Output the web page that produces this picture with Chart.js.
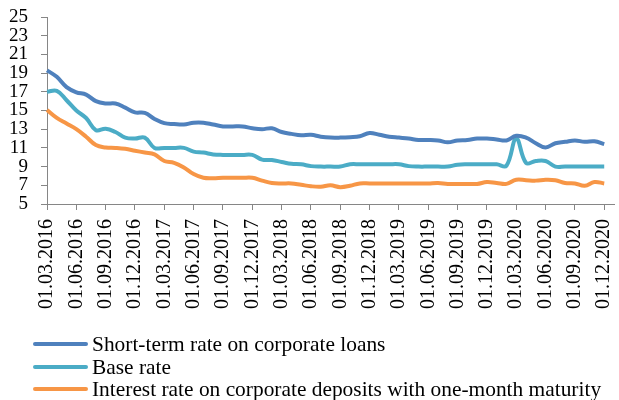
<!DOCTYPE html>
<html>
<head>
<meta charset="utf-8">
<script src="https://cdn.jsdelivr.net/npm/chart.js@4"></script>
<style>
  body { margin: 0; background: #fff; }
  #wrap { position: relative; width: 619px; height: 400px; overflow: hidden; }
  #legend { position: absolute; left: 0; top: 333px; font-family: 'Liberation Serif', 'Times New Roman', serif; font-size: 21.4px; color: #000; }
  .row { position: relative; height: 22.7px; line-height: 22.7px; white-space: nowrap; }
  .swatch { position: absolute; left: 33px; top: 9px; width: 55px; height: 4px; border-radius: 2px; }
  .txt { position: absolute; left: 92px; top: 0; }
</style>
</head>
<body>
<div id="wrap">
  <canvas id="rateChart" width="619" height="400"></canvas>
  <div id="legend"></div>
</div>
<script>
// monthly dates, 01.03.2016 .. 01.01.2021 (last one only extends the axis)
const dateLabels = [
  '01.03.2016', '01.04.2016', '01.05.2016', '01.06.2016', '01.07.2016', '01.08.2016',
  '01.09.2016', '01.10.2016', '01.11.2016', '01.12.2016', '01.01.2017', '01.02.2017',
  '01.03.2017', '01.04.2017', '01.05.2017', '01.06.2017', '01.07.2017', '01.08.2017',
  '01.09.2017', '01.10.2017', '01.11.2017', '01.12.2017', '01.01.2018', '01.02.2018',
  '01.03.2018', '01.04.2018', '01.05.2018', '01.06.2018', '01.07.2018', '01.08.2018',
  '01.09.2018', '01.10.2018', '01.11.2018', '01.12.2018', '01.01.2019', '01.02.2019',
  '01.03.2019', '01.04.2019', '01.05.2019', '01.06.2019', '01.07.2019', '01.08.2019',
  '01.09.2019', '01.10.2019', '01.11.2019', '01.12.2019', '01.01.2020', '01.02.2020',
  '01.03.2020', '01.04.2020', '01.05.2020', '01.06.2020', '01.07.2020', '01.08.2020',
  '01.09.2020', '01.10.2020', '01.11.2020', '01.12.2020', '01.01.2021'
];

const shortTermRate = [
  19.3, 18.6, 17.5, 16.95, 16.7, 16.0, 15.75, 15.75, 15.3, 14.8,
  14.75, 14.1, 13.65, 13.55, 13.5, 13.7, 13.7, 13.5, 13.3, 13.3,
  13.3, 13.1, 13.0, 13.1, 12.7, 12.5, 12.35, 12.4, 12.2, 12.1,
  12.1, 12.15, 12.25, 12.6, 12.4, 12.2, 12.1, 12.0, 11.85, 11.85,
  11.8, 11.6, 11.8, 11.85, 12.0, 12.0, 11.9, 11.8, 12.3, 12.1,
  11.5, 11.05, 11.5, 11.65, 11.8, 11.65, 11.7, 11.4
];

const baseRate = [
  17.0, 17.1, 16.1, 15.0, 14.2, 12.9, 13.05, 12.7, 12.1, 12.0,
  12.1, 11.0, 11.0, 11.0, 11.0, 10.6, 10.5, 10.3, 10.25, 10.25,
  10.25, 10.25, 9.75, 9.7, 9.5, 9.3, 9.25, 9.05, 9.0, 9.0,
  9.0, 9.25, 9.25, 9.25, 9.25, 9.25, 9.25, 9.05, 9.0, 9.0,
  9.0, 9.0, 9.2, 9.25, 9.25, 9.25, 9.25, 9.1, 12.0, 9.4,
  9.6, 9.6, 9.0, 9.0, 9.0, 9.0, 9.0, 9.0
];

const depositRate = [
  15.05, 14.2, 13.6, 13.0, 12.2, 11.3, 11.05, 11.0, 10.9, 10.7,
  10.5, 10.3, 9.6, 9.4, 8.9, 8.2, 7.8, 7.75, 7.8, 7.8,
  7.8, 7.8, 7.5, 7.25, 7.2, 7.2, 7.05, 6.9, 6.85, 7.0,
  6.8, 6.95, 7.2, 7.2, 7.2, 7.2, 7.2, 7.2, 7.2, 7.2,
  7.25, 7.15, 7.15, 7.15, 7.15, 7.35, 7.25, 7.15, 7.6, 7.55,
  7.5, 7.6, 7.55, 7.25, 7.2, 6.95, 7.35, 7.2
];

const seriesNames = [
  'Short-term rate on corporate loans',
  'Base rate',
  'Interest rate on corporate deposits with one-month maturity'
];
const seriesColors = ['#4F81BD', '#4BACC6', '#F79646'];

const axisColor = '#868686';
const serif = "'Liberation Serif', 'Times New Roman', serif";

function makeSet(i, values) {
    return {
        label: seriesNames[i],
        data: values,
        borderColor: seriesColors[i],
        backgroundColor: seriesColors[i],
        borderWidth: 4,
        pointRadius: 0,
        tension: 0.4,
        fill: false
    };
}

new Chart(document.getElementById('rateChart'), {
    type: 'line',
    data: {
        labels: dateLabels,
        datasets: [
            makeSet(0, shortTermRate),
            makeSet(1, baseRate),
            makeSet(2, depositRate)
        ]
    },
    options: {
        responsive: false,
        animation: false,
        layout: { padding: { top: 17, right: 5, left: 0, bottom: 0 } },
        plugins: {
            legend: { display: false },
            tooltip: { enabled: false }
        },
        scales: {
            x: {
                offset: false,
                grid: { drawOnChartArea: false, tickLength: 6, color: axisColor },
                border: { color: axisColor, width: 1 },
                ticks: {
                    autoSkip: false,
                    minRotation: 90,
                    maxRotation: 90,
                    padding: 9,
                    color: '#000',
                    font: { family: serif, size: 20 },
                    callback: (val, i) => (i % 3 === 0 ? dateLabels[i] : null)
                },
                afterFit: (scale) => {
                    scale.height = 196;
                    scale.paddingLeft = 0;
                    scale.paddingRight = 0;
                }
            },
            y: {
                min: 5,
                max: 25,
                grid: { drawOnChartArea: false, tickLength: 6, color: axisColor },
                border: { color: axisColor, width: 1 },
                ticks: { autoSkip: false, stepSize: 2, padding: 13, color: '#000', font: { family: serif, size: 19 } },
                afterFit: (scale) => {
                    scale.width = 47;
                    scale.paddingTop = 0;
                    scale.paddingBottom = 0;
                }
            }
        }
    }
});

// legend: one entry per row, like the original
const legendBox = document.getElementById('legend');
seriesNames.forEach((name, i) => {
    const row = document.createElement('div');
    row.className = 'row';
    row.innerHTML = `<span class="swatch" style="background:${seriesColors[i]}"></span><span class="txt">${name}</span>`;
    legendBox.appendChild(row);
});
</script>
</body>
</html>
